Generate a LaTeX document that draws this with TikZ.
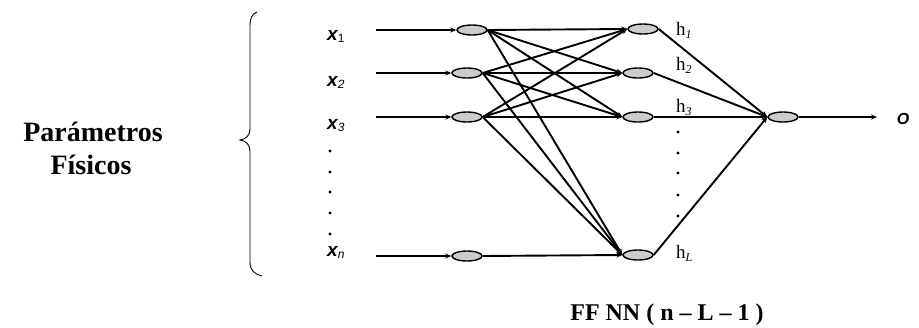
\documentclass[tikz,border=0pt]{standalone}
\usepackage{fontspec}
\setmainfont{Liberation Serif}
\newfontfamily\arialf{Liberation Sans}
\usetikzlibrary{shapes.geometric,arrows.meta}
\tikzset{
  neuron/.style={ellipse,draw=black,line width=1.4pt,fill=black!20,minimum width=30pt,minimum height=10pt,inner sep=0pt},
  conn/.style={line width=1.9pt,-{Stealth[length=6pt,width=5pt]}},
  dotmark/.style={circle,fill=black,inner sep=0pt,minimum size=3.2pt},
  xlab/.style={anchor=base west,inner sep=0pt},
  hlab/.style={anchor=base west,inner sep=0pt},
}
\newcommand{\xl}[1]{{\arialf\bfseries\itshape\fontsize{19}{19}\selectfont x}{\arialf\fontsize{12}{12}\selectfont\raisebox{-2pt}{#1}}}
\newcommand{\hl}[1]{{\fontsize{19}{19}\selectfont h}{\itshape\fontsize{12}{12}\selectfont\raisebox{-3pt}{#1}}}
\begin{document}
\begin{tikzpicture}[x=1pt,y=-1pt]
\useasboundingbox (0,0) rectangle (919,327);
% input neurons
\node[neuron] (i1) at (472,30) {};
\node[neuron] (i2) at (467,73) {};
\node[neuron] (i3) at (467,117) {};
\node[neuron] (in) at (467,256) {};
% hidden neurons
\node[neuron] (h1) at (643,29) {};
\node[neuron] (h2) at (638,73) {};
\node[neuron] (h3) at (638,117) {};
\node[neuron] (hL) at (638,255) {};
% output neuron
\node[neuron] (o) at (783,117) {};
% input start coordinates
\coordinate (s1) at (376,30);
\coordinate (s2) at (376,73);
\coordinate (s3) at (376,117);
\coordinate (sn) at (376,256);
\coordinate (oend) at (877,117);
\draw[conn] (s1) -- (i1.west);
\draw[conn] (s2) -- (i2.west);
\draw[conn] (s3) -- (i3.west);
\draw[conn] (sn) -- (in.west);
% input to hidden
\foreach \a in {i1,i2,i3}{
  \foreach \b in {h1,h2,h3,hL}{
    \draw[conn] (\a.east) -- (\b.west);
  }
}
\draw[conn] (in.east) -- (hL.west);
% hidden to output
\foreach \b in {h1,h2,h3,hL}{
  \draw[conn] (\b.east) -- (o.west);
}
\draw[conn] (o.east) -- (oend);
% labels x
\node[xlab] (lx1) at (327,40) {\xl{1}};
\node[xlab] (lx2) at (327,86) {\xl{\itshape 2}};
\node[xlab] (lx3) at (327,129) {\xl{\itshape 3}};
\node[xlab] (lxn) at (327,256) {\xl{\itshape n}};
\foreach \yy [count=\k] in {151,172,192,213,234}{
  \node[dotmark] (xd\k) at (330,\yy) {};
}
% labels h
\node[hlab] (lh1) at (676,35) {\hl{1}};
\node[hlab] (lh2) at (676,70) {\hl{2}};
\node[hlab] (lh3) at (676,112) {\hl{3}};
\node[hlab] (lhL) at (676,258) {\hl{L}};
\foreach \yy [count=\k] in {132,153,173,195,216}{
  \node[dotmark] (hd\k) at (678,\yy) {};
}
% output label
\node[anchor=center,inner sep=0pt] (lo) at (903,119) {\arialf\bfseries\itshape\fontsize{16}{16}\selectfont O};
% brace
\draw[line width=0.9pt] (257,12) .. controls (252,14) and (250,18) .. (250,26) -- (250,128)
  .. controls (250,136) and (246,139) .. (240,140)
  .. controls (246,141) and (250,144) .. (250,152) -- (250,262)
  .. controls (250,270) and (254,274) .. (262,276);
% left text
\node[anchor=base,inner sep=0pt] (p1) at (93,141) {\bfseries\fontsize{28}{28}\selectfont Parámetros};
\node[anchor=base,inner sep=0pt] (p2) at (91,174) {\bfseries\fontsize{28}{28}\selectfont Físicos};
% title
\node[anchor=base,inner sep=0pt] (title) at (667,320) {\bfseries\fontsize{24}{24}\selectfont FF NN ( n -- L -- 1 )};
\end{tikzpicture}
\end{document}
